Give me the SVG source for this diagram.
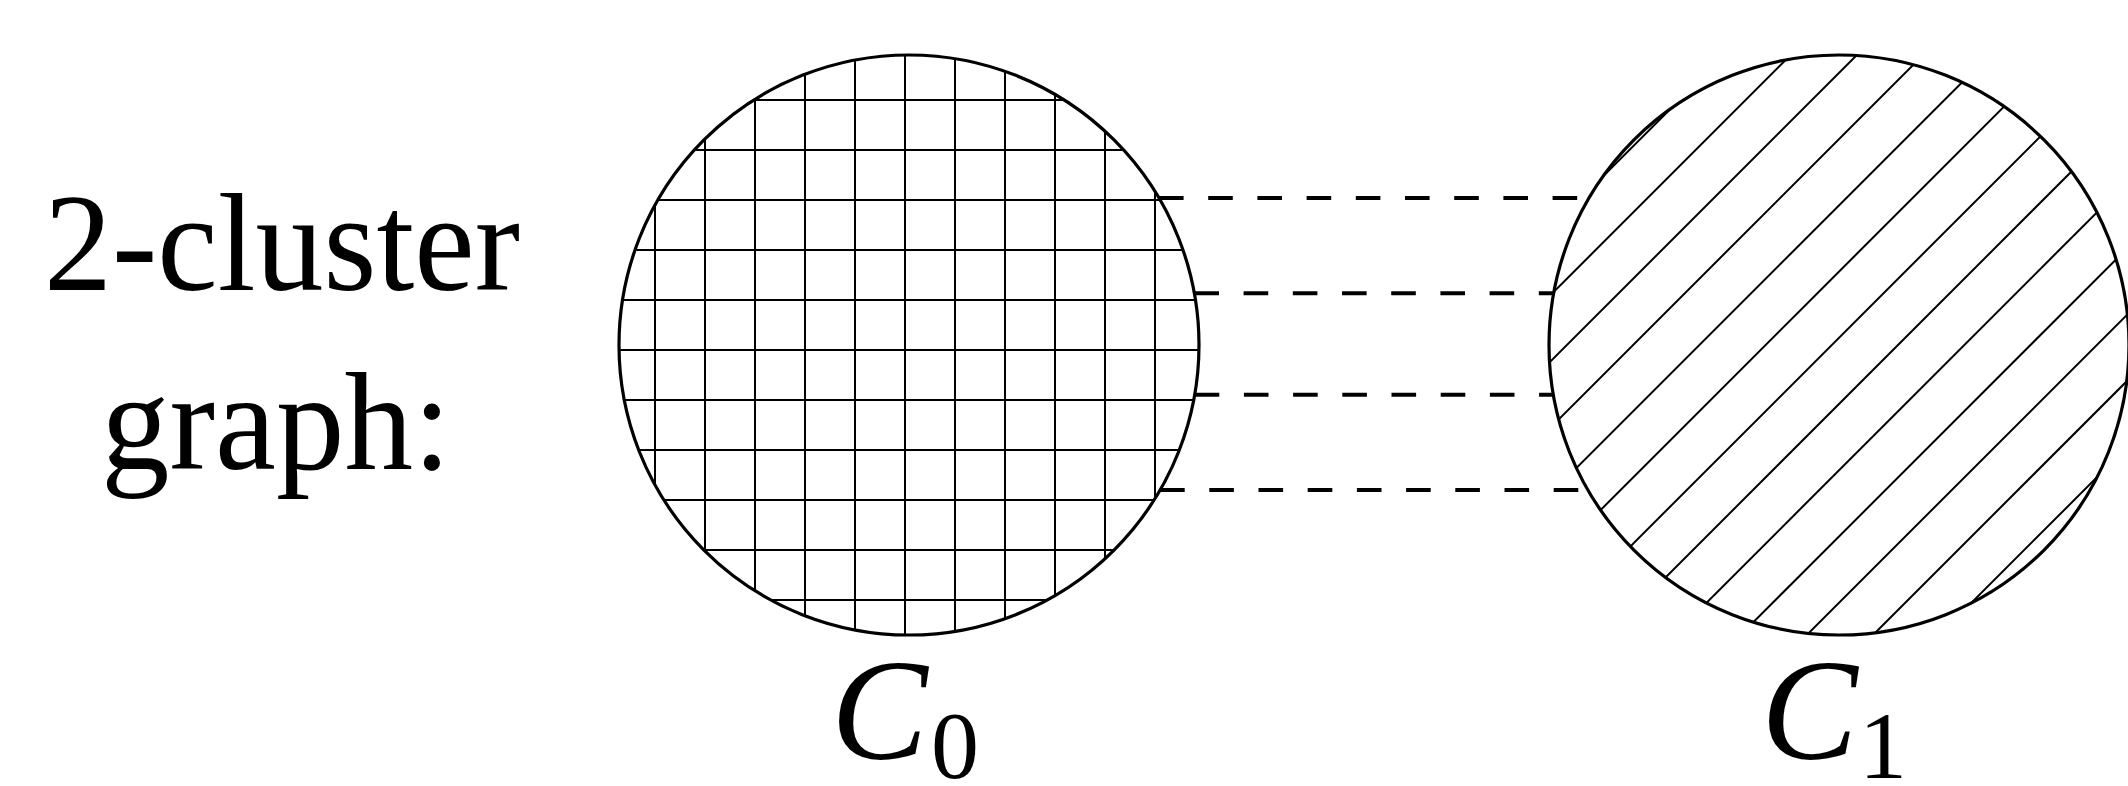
<svg xmlns="http://www.w3.org/2000/svg" width="2128" height="786" viewBox="0 0 2128 786">
<style>
.lbl{font-family:"Liberation Serif","Times New Roman",serif;fill:#000}
.math{font-family:"Liberation Serif","Times New Roman",serif;font-style:italic;fill:#000}
.sub{font-family:"Liberation Serif","Times New Roman",serif;fill:#000}
.ring{fill:none;stroke:#000;stroke-width:3.2}
.hatch{stroke:#000;stroke-width:2;fill:none}
.edge{stroke:#000;stroke-width:4;stroke-dasharray:24.6 24.6;fill:none}
</style>
<defs>
<clipPath id="clip0"><circle cx="909" cy="345" r="290"/></clipPath>
<clipPath id="clip1"><circle cx="1839" cy="345" r="290"/></clipPath>
</defs>
<rect width="2128" height="786" fill="#fff"/>
<g id="title">
<text class="lbl" x="44" y="290" font-size="140" textLength="476" lengthAdjust="spacingAndGlyphs">2-cluster</text>
<text class="lbl" x="101" y="469" font-size="140" textLength="350" lengthAdjust="spacingAndGlyphs">graph:</text>
</g>
<g id="connectors">
<line class="edge" x1="1159" y1="198" x2="1589" y2="198"/>
<line class="edge" x1="1194.4" y1="293.3" x2="1553.6" y2="293.3"/>
<line class="edge" x1="1194.7" y1="394.8" x2="1553.3" y2="394.8"/>
<line class="edge" x1="1160.1" y1="490" x2="1587.9" y2="490"/>
</g>
<g id="C0">
<g clip-path="url(#clip0)" class="hatch">
<path d="M655 40V650M705 40V650M755 40V650M805 40V650M855 40V650M905 40V650M955 40V650M1005 40V650M1055 40V650M1105 40V650M1155 40V650"/>
<path d="M600 100H1220M600 150H1220M600 200H1220M600 250H1220M600 300H1220M600 350H1220M600 400H1220M600 450H1220M600 500H1220M600 550H1220M600 600H1220"/>
</g>
<circle class="ring" cx="909" cy="345" r="290"/>
<text class="math" x="831" y="759" font-size="145">C</text>
<text class="sub" x="931" y="778" font-size="96">0</text>
</g>
<g id="C1">
<g clip-path="url(#clip1)" class="hatch">
<path d="M1400 379.4L2300 -520.6M1400 445.6L2300 -454.4M1400 511.9L2300 -388.1M1400 578.1L2300 -321.9M1400 644.4L2300 -255.6M1400 710.6L2300 -189.4M1400 776.8L2300 -123.2M1400 843.0L2300 -57.0M1400 909.3L2300 9.3M1400 975.5L2300 75.5M1400 1041.8L2300 141.8M1400 1108.0L2300 208.0M1400 1174.2L2300 274.2"/>
</g>
<circle class="ring" cx="1839" cy="345" r="290"/>
<text class="math" x="1761" y="759" font-size="145">C</text>
<text class="sub" x="1859" y="778" font-size="96">1</text>
</g>
</svg>
